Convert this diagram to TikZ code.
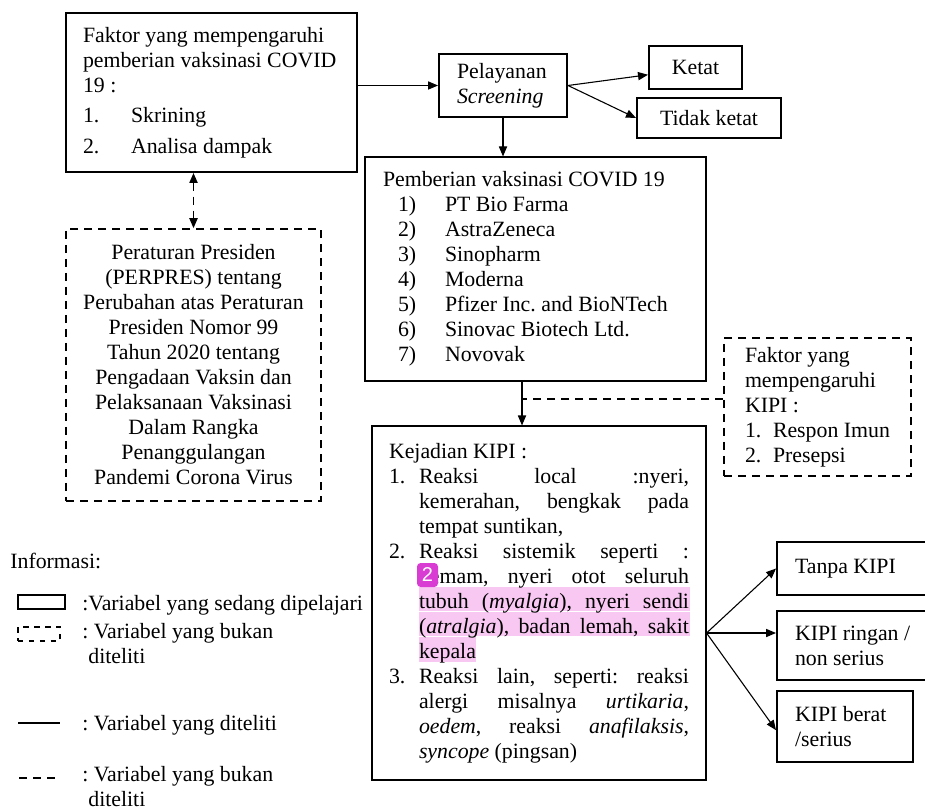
\documentclass[tikz,border=0pt]{standalone}
\usepackage{fontspec}
\setmainfont{Liberation Serif}
\setsansfont{Liberation Sans}
\usetikzlibrary{arrows.meta, backgrounds}
\frenchspacing

\newlength\px
\setlength\px{0.55pt}
\definecolor{hlpink}{HTML}{F8C8F2}
\definecolor{notemag}{HTML}{D83CD2}

% numbered entry with hanging indent
\newcommand{\numline}[3]{\par\noindent\hangindent=#1\hangafter=1\makebox[#1][l]{#2}#3\par}

\begin{document}
\begin{tikzpicture}[
    x=0.55pt, y=-0.55pt,
    every node/.style={font=\fontsize{12pt}{13.75pt}\selectfont, inner sep=0pt},
    mainbox/.style={rectangle, draw, line width=1.1pt},
    thinbox/.style={rectangle, draw, line width=0.6pt},
    dashbox/.style={rectangle, draw, line width=0.9pt, dash pattern=on 4.4pt off 3.3pt},
    arr/.style={-{Triangle[length=5.5pt, width=4.5pt]}, line width=0.6pt},
    dasharr/.style={{Triangle[length=5.5pt, width=4.5pt]}-{Triangle[length=5.5pt, width=4.5pt]}, line width=0.9pt, dash pattern=on 4.4pt off 3.3pt},
    dashline/.style={line width=0.9pt, dash pattern=on 4.4pt off 3.3pt},
    legtext/.style={anchor=base west, align=flush left}
]
\useasboundingbox (0,0) rectangle (925,808);

% Highlight marks
\begin{scope}[on background layer]
    \fill[hlpink] (419,587) rectangle (690,611);
    \fill[hlpink] (419,611.5) rectangle (690,636);
    \fill[hlpink] (419,637) rectangle (476,662);
\end{scope}

% Top row
\node[mainbox, minimum width=291\px, minimum height=159\px, text width=257\px, align=flush left] (faktor) at (211.5,92.5)
    {Faktor yang mempengaruhi\\pemberian vaksinasi COVID\\19 :\\[3pt]\makebox[48\px][l]{1.}Skrining\\[3pt]\makebox[48\px][l]{2.}Analisa dampak};
\node[mainbox, minimum width=128\px, minimum height=63\px, text width=92\px, align=flush left] (layanan) at (503,85.5)
    {Pelayanan\\\textit{Screening}};
\node[mainbox, minimum width=93\px, minimum height=43\px] (ketat) at (695.5,67.5) {Ketat};
\node[mainbox, minimum width=144\px, minimum height=40\px] (tidak) at (709,118) {Tidak ketat};

% Vaccination and regulation
\node[thinbox, minimum width=341\px, minimum height=224\px, text width=305\px, align=flush left] (vaksin) at (535.5,269)
    {Pemberian vaksinasi COVID 19\\
    \hspace*{15\px}\makebox[47\px][l]{1)}PT Bio Farma\\
    \hspace*{15\px}\makebox[47\px][l]{2)}AstraZeneca\\
    \hspace*{15\px}\makebox[47\px][l]{3)}Sinopharm\\
    \hspace*{15\px}\makebox[47\px][l]{4)}Moderna\\
    \hspace*{15\px}\makebox[47\px][l]{5)}Pfizer Inc. and BioNTech\\
    \hspace*{15\px}\makebox[47\px][l]{6)}Sinovac Biotech Ltd.\\
    \hspace*{15\px}\makebox[47\px][l]{7)}Novovak};
\node[dashbox, minimum width=255\px, minimum height=272\px, align=center] (perpres) at (193.5,365)
    {Peraturan Presiden\\(PERPRES) tentang\\Perubahan atas Peraturan\\Presiden Nomor 99\\Tahun 2020 tentang\\Pengadaan Vaksin dan\\Pelaksanaan Vaksinasi\\Dalam Rangka\\Penanggulangan\\Pandemi Corona Virus};
\node[dashbox, minimum width=187\px, minimum height=138\px, text width=145\px, align=flush left] (faktorkipi) at (817.5,407)
    {Faktor yang\\mempengaruhi\\KIPI :\\\makebox[28\px][l]{1.}\mbox{Respon Imun}\\\makebox[28\px][l]{2.}Presepsi};

% KIPI
\node[thinbox, minimum width=334\px, minimum height=354\px, text width=300\px, align=justify] (kipi) at (539,603)
    {\noindent Kejadian KIPI :
    \numline{30\px}{1.}{Reaksi local :nyeri,\linebreak kemerahan, bengkak pada\linebreak tempat suntikan,}
    \numline{30\px}{2.}{Reaksi sistemik seperti :\linebreak demam, nyeri otot seluruh\linebreak tubuh (\textit{myalgia}), nyeri sendi\linebreak (\textit{atralgia}), badan lemah, sakit\linebreak kepala}
    \numline{30\px}{3.}{Reaksi lain, seperti: reaksi\linebreak alergi misalnya \textit{urtikaria},\linebreak \textit{oedem}, reaksi \textit{anafilaksis},\linebreak \textit{syncope} (pingsan)}};
\node[fill=notemag, rounded corners=2pt, minimum width=21\px, minimum height=24\px, text=white, font=\sffamily\fontsize{11pt}{12pt}\selectfont] (note) at (427.5,575) {2};

% Outcomes
\node[mainbox, minimum width=158\px, minimum height=53\px, text width=122\px, align=flush left] (tanpa) at (856,568.5) {Tanpa KIPI};
\node[mainbox, minimum width=158\px, minimum height=69\px, text width=122\px, align=flush left] (ringan) at (856,645.5) {KIPI ringan /\\non serius};
\node[mainbox, minimum width=136\px, minimum height=71\px, text width=100\px, align=flush left] (berat) at (845,726.5) {KIPI berat\\/serius};

% Arrows
\draw[arr] (layanan.west -| faktor.east) -- (layanan.west);
\draw[arr] (layanan.east) -- ([yshift=-4pt]ketat.west);
\draw[arr] (layanan.east) -- (tidak.west);
\draw[arr] (layanan.south) -- (layanan.south |- vaksin.north);
\draw[dasharr] (perpres.north |- faktor.south) -- (perpres.north);

\coordinate (kipijoin) at (522,399);
\draw[arr] (kipijoin |- vaksin.south) -- (kipijoin |- kipi.north);
\draw[dashline] (faktorkipi.west |- kipijoin) -- (kipijoin);

\coordinate (fork) at (kipi.east |- 0,633);
\draw[arr] (fork) -- (tanpa.west);
\draw[arr] (fork) -- (fork -| ringan.west);
\draw[arr] (fork) -- ([yshift=-2pt]berat.west);

% Legend
\node[legtext] (infotitle) at (10,568) {Informasi:};
\node[thinbox, line width=0.8pt, minimum width=47\px, minimum height=14\px] (legsolidbox) at (41.5,602) {};
\node[legtext] (legsolidtext) at (82,610) {:Variabel yang sedang dipelajari};
\node[dashbox, dash pattern=on 3pt off 3pt, minimum width=42\px, minimum height=14\px] (legdashbox) at (39,634) {};
\node[legtext] (legdashtext) at (82,663) {: Variabel yang bukan\\\hspace*{6\px}diteliti};
\draw[line width=0.6pt] (18,723) -- (60,723);
\node[legtext] (leglinetext) at (82,730) {: Variabel yang diteliti};
\draw[dashline] (19,778) -- (60,778);
\node[legtext] (legdashlinetext) at (82,806) {: Variabel yang bukan\\\hspace*{6\px}diteliti};
\end{tikzpicture}
\end{document}
